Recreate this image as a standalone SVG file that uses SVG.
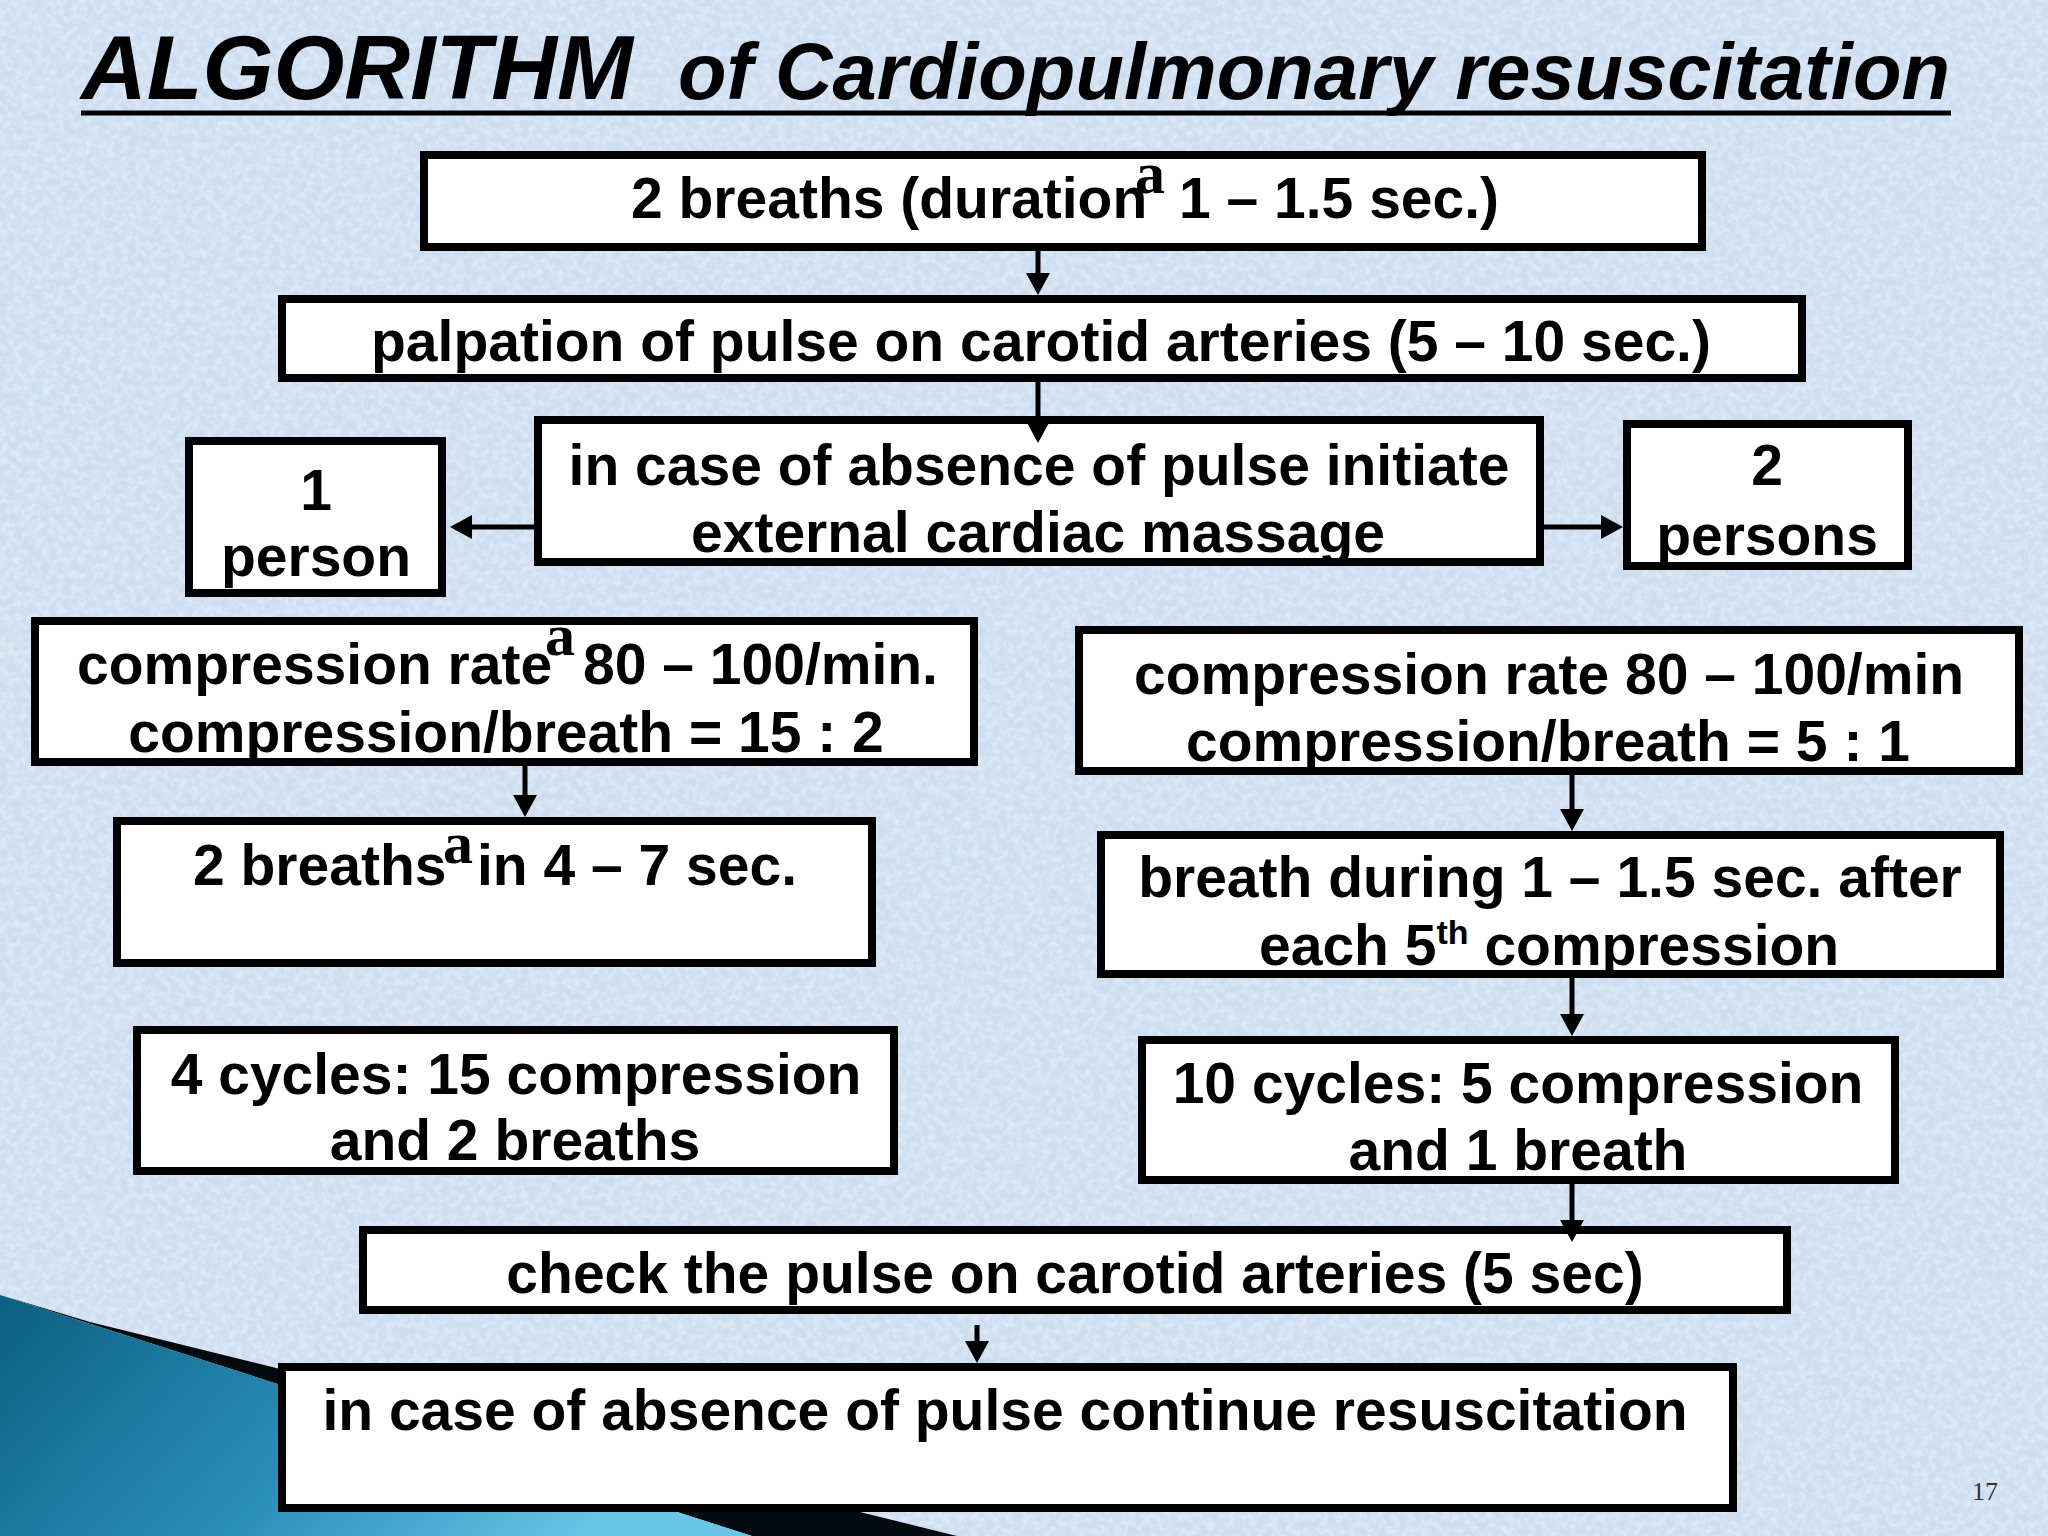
<svg xmlns="http://www.w3.org/2000/svg" width="2048" height="1536" viewBox="0 0 2048 1536">
<defs>
<style>
.box{fill:#ffffff;stroke:#000000;stroke-width:8}
.t{font-family:"Liberation Sans",Arial,sans-serif;font-weight:bold;font-size:57px;fill:#000000}
.c{text-anchor:middle}
.sup{font-family:"Liberation Serif","Times New Roman",serif;font-weight:bold;font-size:60px}
.th{font-size:34px}
.ttl{font-family:"Liberation Sans",Arial,sans-serif;font-weight:bold;font-style:italic;fill:#000000}
.con{stroke:#000000;stroke-width:5;fill:none;marker-end:url(#ah)}
</style>
<marker id="ah" markerUnits="userSpaceOnUse" viewBox="0 0 22 24" refX="8" refY="12" markerWidth="22" markerHeight="24" orient="auto">
<path d="M0,0 L22,12 L0,24 Z" fill="#000000"/>
</marker>
<linearGradient id="teal" x1="0" y1="0" x2="1" y2="0.3">
<stop offset="0" stop-color="#0c5f80"/>
<stop offset="0.55" stop-color="#2a8fb8"/>
<stop offset="1" stop-color="#6ac5e6"/>
</linearGradient>
<filter id="noise" x="0" y="0" width="100%" height="100%">
<feTurbulence type="fractalNoise" baseFrequency="0.14" numOctaves="3" seed="7" result="n"/>
<feColorMatrix in="n" type="matrix" values="0 0 0 0 1  0 0 0 0 1  0 0 0 0 1  0.8 0 0 0 -0.3"/>
</filter>
</defs>
<rect x="0" y="0" width="2048" height="1536" fill="#cddef1"/>
<rect x="0" y="0" width="2048" height="1536" filter="url(#noise)"/>
<g id="swoosh">
<polygon points="90,1322 957,1536 752,1536 0,1295" fill="#050a0f"/>
<polygon points="0,1295 752,1536 0,1536" fill="url(#teal)"/>
</g>
<g id="title">
<text class="ttl" x="81" y="99" font-size="90" textLength="552" lengthAdjust="spacingAndGlyphs">ALGORITHM</text>
<text class="ttl" x="678" y="99" font-size="80" textLength="1272" lengthAdjust="spacingAndGlyphs">of Cardiopulmonary resuscitation</text>
<line x1="81" y1="113" x2="1951" y2="113" stroke="#000000" stroke-width="5"/>
</g>
<g id="n1">
<rect class="box" x="424" y="155" width="1278" height="92"/>
<text class="t" x="631" y="218">2 breaths (duration</text>
<text class="t sup" x="1135" y="193">a</text>
<text class="t" x="1179" y="218">1 – 1.5 sec.)</text>
</g>
<g id="n2">
<rect class="box" x="282" y="299" width="1520" height="79"/>
<text class="t c" x="1041" y="361">palpation of pulse on carotid arteries (5 – 10 sec.)</text>
</g>
<g id="n3">
<rect class="box" x="538" y="420" width="1002" height="142"/>
<text class="t c" x="1039" y="485">in case of absence of pulse initiate</text>
<text class="t c" x="1038" y="552">external cardiac massage</text>
</g>
<g id="n_one">
<rect class="box" x="189" y="441" width="253" height="152"/>
<text class="t c" x="316" y="510">1</text>
<text class="t c" x="316" y="576">person</text>
</g>
<g id="n_two">
<rect class="box" x="1627" y="424" width="281" height="142"/>
<text class="t c" x="1767" y="485">2</text>
<text class="t c" x="1767" y="555">persons</text>
</g>
<g id="n_l1">
<rect class="box" x="35" y="621" width="939" height="141"/>
<text class="t" x="77" y="684">compression rate</text>
<text class="t sup" x="545" y="655">a</text>
<text class="t" x="583" y="684">80 – 100/min.</text>
<text class="t c" x="506" y="752">compression/breath = 15 : 2</text>
</g>
<g id="n_l2">
<rect class="box" x="117" y="821" width="755" height="142"/>
<text class="t" x="193" y="885">2 breaths</text>
<text class="t sup" x="443" y="863">a</text>
<text class="t" x="477" y="885">in 4 – 7 sec.</text>
</g>
<g id="n_l3">
<rect class="box" x="137" y="1030" width="757" height="141"/>
<text class="t c" x="516" y="1094">4 cycles: 15 compression</text>
<text class="t c" x="515" y="1160">and 2 breaths</text>
</g>
<g id="n_r1">
<rect class="box" x="1079" y="630" width="940" height="141"/>
<text class="t c" x="1549" y="694">compression rate 80 – 100/min</text>
<text class="t c" x="1548" y="761">compression/breath = 5 : 1</text>
</g>
<g id="n_r2">
<rect class="box" x="1101" y="835" width="899" height="139"/>
<text class="t c" x="1550" y="897">breath during 1 – 1.5 sec. after</text>
<text class="t" x="1259" y="965">each 5<tspan class="th" dy="-21">th</tspan><tspan dy="21"> compression</tspan></text>
</g>
<g id="n_r3">
<rect class="box" x="1142" y="1040" width="753" height="140"/>
<text class="t c" x="1518" y="1103">10 cycles: 5 compression</text>
<text class="t c" x="1518" y="1170">and 1 breath</text>
</g>
<g id="n_check">
<rect class="box" x="363" y="1230" width="1424" height="80"/>
<text class="t c" x="1075" y="1293">check the pulse on carotid arteries (5 sec)</text>
</g>
<g id="n_end">
<rect class="box" x="282" y="1367" width="1451" height="141"/>
<text class="t c" x="1005" y="1430">in case of absence of pulse continue resuscitation</text>
</g>
<g id="connectors">
<line class="con" x1="1038" y1="247" x2="1038" y2="281"/>
<line class="con" x1="1038" y1="378" x2="1038" y2="429"/>
<line class="con" x1="538" y1="527" x2="464" y2="527"/>
<line class="con" x1="1540" y1="527" x2="1609" y2="527"/>
<line class="con" x1="525" y1="762" x2="525" y2="803"/>
<line class="con" x1="1572" y1="771" x2="1572" y2="817"/>
<line class="con" x1="1572" y1="974" x2="1572" y2="1022"/>
<line class="con" x1="1572" y1="1180" x2="1572" y2="1228"/>
<line class="con" x1="977" y1="1325" x2="977" y2="1349"/>
</g>
<text x="1972" y="1500" font-family="'Liberation Serif','Times New Roman',serif" font-size="26" fill="#333333">17</text>
</svg>
